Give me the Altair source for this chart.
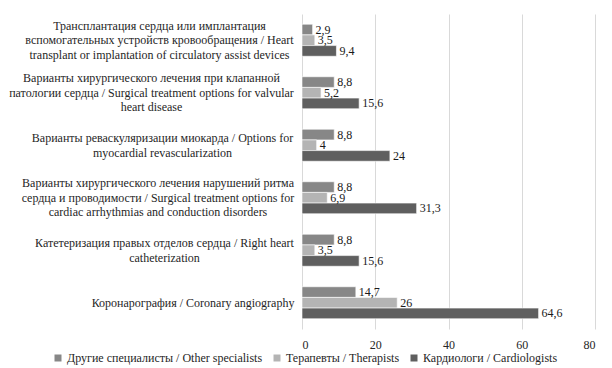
import altair as alt
import pandas as pd

# ---- data ----
categories = [
    ["Трансплантация сердца или имплантация",
     "вспомогательных устройств кровообращения / Heart",
     "transplant or implantation of circulatory assist devices"],
    ["Варианты хирургического лечения при клапанной",
     "патологии сердца / Surgical treatment options for valvular",
     "heart disease"],
    ["Варианты реваскуляризации миокарда / Options for",
     "myocardial revascularization"],
    ["Варианты хирургического лечения нарушений ритма",
     "сердца и проводимости / Surgical treatment options for",
     "cardiac arrhythmias and conduction disorders"],
    ["Катетеризация правых отделов сердца / Right heart",
     "catheterization"],
    ["Коронарография / Coronary angiography"],
]
series = ["Другие специалисты / Other specialists",
          "Терапевты / Therapists",
          "Кардиологи / Cardiologists"]
other = [2.9, 8.8, 8.8, 8.8, 8.8, 14.7]
therapists = [3.5, 5.2, 4, 6.9, 3.5, 26]
cardiologists = [9.4, 15.6, 24, 31.3, 15.6, 64.6]
x_ticks = [0, 20, 40, 60, 80]

# ---- styles ----
colors = ["#878787", "#b4b4b4", "#5f5f5f"]
label_pad = [143, 151, 140, 144.5, 138, 109.5]
LINE_H = 14.5
FONT = "'Times New Roman', 'Liberation Serif', 'DejaVu Serif', serif"

keys = ["|".join(c) for c in categories]
rows = []
for s, vals in zip(series, [other, therapists, cardiologists]):
    for k, v in zip(keys, vals):
        rows.append({"cat": k, "series": s, "value": v})
df = pd.DataFrame(rows)

pad_cond = [{"test": f"datum.value === '{k}'", "value": p} for k, p in zip(keys, label_pad)]
off_cond = [
    {"test": "length(split(datum.value, '|')) == 3", "value": -LINE_H},
    {"test": "length(split(datum.value, '|')) == 2", "value": -LINE_H / 2},
]

base = alt.Chart(df).transform_calculate(
    lbl="replace(toString(datum.value), '.', ',')"
).encode(
    y=alt.Y("cat:N", sort=keys,
            scale=alt.Scale(paddingInner=0.39, paddingOuter=0.195),
            axis=alt.Axis(title=None, labelExpr="split(datum.label, '|')",
                          labelAlign="center", labelBaseline="middle",
                          labelPadding={"condition": pad_cond, "value": 144},
                          labelOffset={"condition": off_cond, "value": 0},
                          labelLineHeight=LINE_H, labelLimit=600,
                          ticks=False, domain=False, grid=False)),
    yOffset=alt.YOffset("series:N", sort=series,
                        scale=alt.Scale(paddingInner=0, paddingOuter=0)),
    x=alt.X("value:Q", scale=alt.Scale(domain=[0, 80], nice=False),
            axis=alt.Axis(title=None, values=x_ticks, ticks=False, domain=False,
                          grid=True, gridColor="#d9d9d9", gridWidth=1,
                          labelPadding=10)),
)

bars = base.mark_bar(stroke="white", strokeWidth=0.6).encode(
    color=alt.Color("series:N", sort=series,
                    scale=alt.Scale(domain=series, range=colors),
                    legend=alt.Legend(title=None, orient="none", legendX=-250, legendY=338,
                                      direction="horizontal", symbolType="square",
                                      symbolSize=49, symbolStrokeWidth=0,
                                      labelFont=FONT, labelFontSize=12, labelColor="#262626",
                                      labelLimit=400, labelOffset=3, columnPadding=8,
                                      padding=0))
)

text = base.mark_text(align="left", baseline="middle", dx=3, font=FONT,
                      fontSize=12, color="#1a1a1a").encode(text="lbl:N")

chart = (bars + text).properties(
    width=293, height=315,
    autosize=alt.AutoSizeParams(type="none"),
    padding={"left": 294, "top": 6, "right": 9, "bottom": 39},
).configure_axis(
    labelFont=FONT, labelFontSize=12, labelColor="#262626"
).configure_view(stroke=None)

chart.save("out.html", embed_options={"renderer": "svg", "actions": False})
